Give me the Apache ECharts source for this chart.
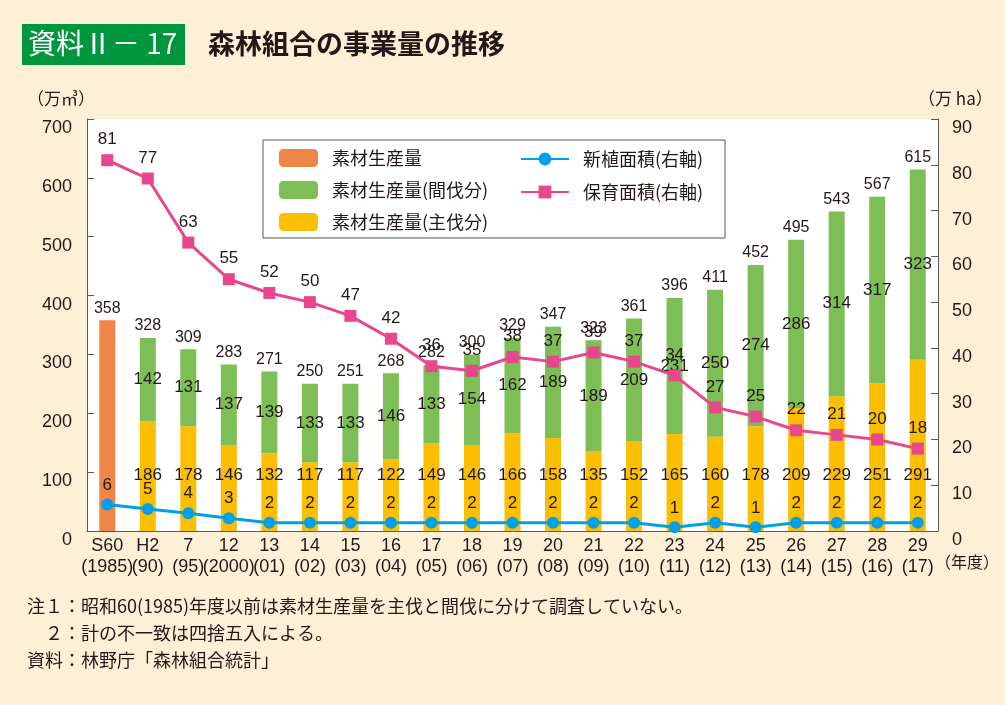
<!DOCTYPE html>
<html>
<head>
<meta charset="utf-8">
<script src="https://cdn.jsdelivr.net/npm/echarts@6/dist/echarts.min.js"></script>
<style>
html,body{margin:0;padding:0;background:#fdf0d6;}
#chart{width:1005px;height:705px;}
</style>
</head>
<body>
<div id="chart"></div>
<script>
// ---- data ----
const categories = ['S60\n(1985)','H2\n(90)','7\n(95)','12\n(2000)','13\n(01)','14\n(02)','15\n(03)','16\n(04)','17\n(05)','18\n(06)','19\n(07)','20\n(08)','21\n(09)','22\n(10)','23\n(11)','24\n(12)','25\n(13)','26\n(14)','27\n(15)','28\n(16)','29\n(17)'];
const totalProduction = [358,328,309,283,271,250,251,268,282,300,329,347,323,361,396,411,452,495,543,567,615];
const undividedProduction = [358,'-','-','-','-','-','-','-','-','-','-','-','-','-','-','-','-','-','-','-','-'];
const thinningProduction = ['-',142,131,137,139,133,133,146,133,154,162,189,189,209,231,250,274,286,314,317,323];
const finalCutProduction = ['-',186,178,146,132,117,117,122,149,146,166,158,135,152,165,160,178,209,229,251,291];
const newPlantingArea = [5.8,4.8,3.9,2.8,1.8,1.8,1.8,1.8,1.8,1.8,1.8,1.8,1.8,1.8,0.8,1.8,0.8,1.8,1.8,1.8,1.8];
const tendingArea = [81,77,63,55,52,50,47,42,36,35,38,37,39,37,34,27,25,22,21,20,18];
const seriesNames = ['素材生産量','素材生産量(間伐分)','素材生産量(主伐分)','新植面積(右軸)','保育面積(右軸)'];
const notes = ['注１：昭和60(1985)年度以前は素材生産量を主伐と間伐に分けて調査していない。','　２：計の不一致は四捨五入による。','資料：林野庁「森林組合統計」'];

// ---- style ----
const NARROW = "'Liberation Sans Narrow','Arial Narrow','Liberation Sans',sans-serif";
const REG = "'Liberation Sans',Arial,sans-serif";
const JP = "'Noto Sans CJK JP','Noto Sans',sans-serif";
const TXT = '#231815';
const AXIS = '#595757';

const chart = echarts.init(document.getElementById('chart'));
const zeros = totalProduction.map(() => 0);

const option = {
  backgroundColor: '#fdf0d6',
  animation: false,
  grid: {left: 87, right: 67, top: 119, bottom: 174, show: true, backgroundColor: '#ffffff', borderWidth: 0},
  legend: [
    {data: seriesNames.slice(0,3), orient: 'vertical', left: 279, top: 149, padding: 0,
     itemWidth: 39, itemHeight: 18, itemGap: 14,
     textStyle: {fontFamily: JP, fontSize: 18, color: TXT, padding: [0,0,0,9]}},
    {data: seriesNames.slice(3), orient: 'vertical', left: 520, top: 150, padding: 0,
     itemWidth: 48, itemHeight: 16, itemGap: 15,
     textStyle: {fontFamily: JP, fontSize: 18, color: TXT, padding: [0,0,0,9]}}
  ],
  xAxis: {
    type: 'category', data: categories, boundaryGap: true,
    axisLine: {lineStyle: {color: AXIS, width: 1}},
    axisTick: {inside: true, length: 6, lineStyle: {color: AXIS}},
    axisLabel: {fontFamily: NARROW, fontSize: 18, color: TXT, lineHeight: 21, margin: 5, interval: 0}
  },
  yAxis: [
    {type: 'value', min: 0, max: 700, interval: 100, position: 'left',
     axisLine: {show: true, lineStyle: {color: AXIS}},
     axisTick: {show: true, inside: true, length: 7, lineStyle: {color: AXIS}},
     splitLine: {show: false},
     axisLabel: {fontFamily: REG, fontSize: 18, color: TXT, margin: 15, verticalAlign: 'top'}},
    {type: 'value', min: 0, max: 90, interval: 10, position: 'right',
     axisLine: {show: true, lineStyle: {color: AXIS}},
     axisTick: {show: true, inside: true, length: 7, lineStyle: {color: AXIS}},
     splitLine: {show: false},
     axisLabel: {fontFamily: REG, fontSize: 18, color: TXT, margin: 14, verticalAlign: 'top'}}
  ],
  series: [
    {name: seriesNames[0], type: 'bar', stack: 'prod', barWidth: 16, data: undividedProduction,
     itemStyle: {color: '#ef8546'}},
    {name: seriesNames[2], type: 'bar', stack: 'prod', barWidth: 16, data: finalCutProduction,
     itemStyle: {color: '#fbbe00'},
     label: {show: true, position: 'insideBottom', distance: 47, fontFamily: NARROW, fontSize: 17, color: TXT}},
    {name: seriesNames[1], type: 'bar', stack: 'prod', barWidth: 16, data: thinningProduction,
     itemStyle: {color: '#7dbe57'},
     label: {show: true, position: 'inside', fontFamily: NARROW, fontSize: 17, color: TXT}},
    {name: 'total', type: 'bar', stack: 'prod', barWidth: 16, data: zeros,
     itemStyle: {color: 'rgba(0,0,0,0)'},
     label: {show: true, position: 'top', distance: 4, fontFamily: NARROW, fontSize: 16, color: TXT,
       formatter: p => String(totalProduction[p.dataIndex])}},
    {name: seriesNames[3], type: 'line', yAxisIndex: 1, data: newPlantingArea, z: 5,
     symbol: 'circle', symbolSize: 12,
     lineStyle: {color: '#00a0e9', width: 3}, itemStyle: {color: '#00a0e9'},
     label: {show: true, position: 'top', distance: 5, fontFamily: REG, fontSize: 17, color: TXT,
       formatter: p => String(Math.round(p.value))}},
    {name: seriesNames[4], type: 'line', yAxisIndex: 1, data: tendingArea, z: 6,
     symbol: 'rect', symbolSize: 12,
     lineStyle: {color: '#e8478c', width: 3}, itemStyle: {color: '#e8478c'},
     label: {show: true, position: 'top', distance: 6, fontFamily: NARROW, fontSize: 17, color: TXT}}
  ],
  graphic: [
    {type: 'rect', left: 22, top: 24, shape: {width: 163, height: 41}, style: {fill: '#00963f'}},
    {type: 'text', left: 28, top: 29, style: {text: '資料Ⅱ－ 17', font: "28px " + JP, fill: '#ffffff'}},
    {type: 'text', left: 208, top: 30, style: {text: '森林組合の事業量の推移', font: "bold 27px " + JP, fill: TXT}},
    {type: 'text', left: 27, top: 90, style: {text: '（万㎥）', font: "17px " + JP, fill: TXT}},
    {type: 'text', left: 918, top: 90, style: {text: '（万 ha）', font: "17px " + JP, fill: TXT}},
    {type: 'text', left: 935, top: 554, style: {text: '（年度）', font: "16px " + JP, fill: TXT}},
    {type: 'rect', z: 3, shape: {x: 263, y: 140, width: 462, height: 98}, style: {fill: '#ffffff', stroke: AXIS, lineWidth: 1}},
    {type: 'text', left: 27, top: 597, style: {text: notes[0], font: "18px " + JP, fill: TXT}},
    {type: 'text', left: 27, top: 624, style: {text: notes[1], font: "18px " + JP, fill: TXT}},
    {type: 'text', left: 27, top: 651, style: {text: notes[2], font: "18px " + JP, fill: TXT}}
  ]
};
chart.setOption(option);
</script>
</body>
</html>
